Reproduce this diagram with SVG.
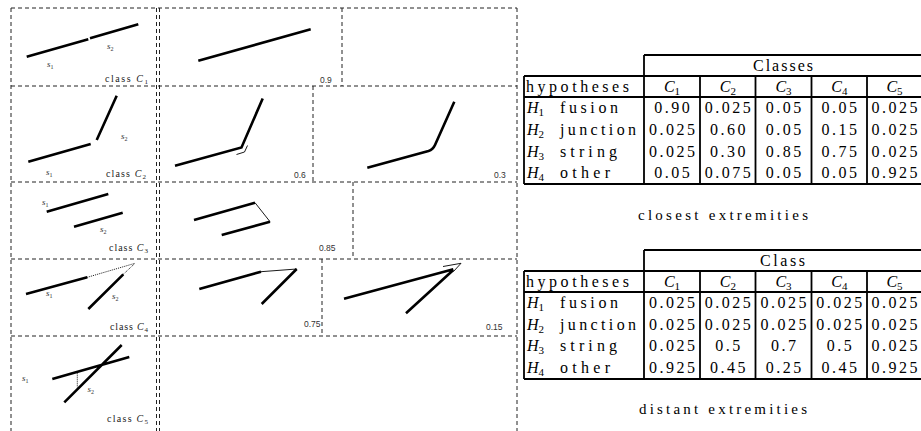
<svg xmlns="http://www.w3.org/2000/svg" width="921" height="431" viewBox="0 0 921 431">
<style>
.d{stroke:#222;stroke-width:1;stroke-dasharray:4 3;fill:none}
.k{stroke:#000;stroke-width:2.6;fill:none}
.t{stroke:#000;stroke-width:0.9;fill:none}
.o{stroke:#000;stroke-width:0.9;stroke-dasharray:1 1;fill:none}
.lbl{font-family:"Liberation Serif",serif;font-size:10px;fill:#222}
.sl{font-family:"Liberation Serif",serif;font-size:9px;font-style:italic;fill:#333}
.n{font-family:"Liberation Sans",sans-serif;font-size:8.5px;fill:#333}
.tb{stroke:#000;stroke-width:1.8;fill:none}
.tx{font-family:"Liberation Serif",serif;font-size:16px;fill:#000}
.v{font-family:"Liberation Serif",serif;font-size:16px;fill:#000;letter-spacing:2.5px;text-anchor:middle}
.h{font-family:"Liberation Serif",serif;font-size:16px;fill:#000;text-anchor:middle}
.cap{font-family:"Liberation Serif",serif;font-size:15px;fill:#000;text-anchor:middle}
</style>

<g id="grid">
<path class="d" d="M11,8H517M11,86H517M11,182H517M11,259H517M11,336H517"/>
<path class="d" d="M11,8V431M156.5,8V431M159.5,8V431M517,8V431"/>
<path class="d" d="M342,8V86M313,86V182M353,182V259M322,259V336"/>
</g>

<g id="row1">
<g id="c1">
<path class="k" d="M26.7,56.7L88.3,39.3M90,38.3L138.3,24.3"/>
<text class="sl" x="47" y="67">s<tspan font-size="6" dy="1.5" font-style="normal">1</tspan></text>
<text class="sl" x="107" y="49">s<tspan font-size="6" dy="1.5" font-style="normal">2</tspan></text>
<text class="lbl" x="105" y="82" textLength="43">class <tspan font-style="italic">C</tspan><tspan font-size="7" dy="2">1</tspan></text>
</g>
<g id="c1a">
<path class="k" d="M198.3,60.7L310.7,29.3"/>
<text class="n" x="320" y="82.5">0.9</text>
</g>
</g>

<g id="row2">
<g id="c2">
<path class="k" d="M28.3,161.7L90.7,144M96.7,140L116.7,95.7"/>
<text class="sl" x="121" y="139">s<tspan font-size="6" dy="1.5" font-style="normal">2</tspan></text>
<text class="sl" x="46" y="175">s<tspan font-size="6" dy="1.5" font-style="normal">1</tspan></text>
<text class="lbl" x="106" y="177" textLength="40">class <tspan font-style="italic">C</tspan><tspan font-size="7" dy="2">2</tspan></text>
</g>
<g id="c2a">
<path class="k" d="M175,165.7L241.5,147.5L262.7,98.5" stroke-linejoin="miter"/>
<path class="t" d="M236.5,154.5L244.5,152L247.5,145.5"/>
<text class="n" x="294" y="178">0.6</text>
</g>
<g id="c2b">
<path class="k" d="M367.3,167.7L428.5,151Q433,149.5 435,145L454.3,101.7"/>
<text class="n" x="494" y="177.5">0.3</text>
</g>
</g>

<g id="row3">
<g id="c3">
<path class="k" d="M46.7,211.7L108.3,194M74,226.7L122.7,212.7"/>
<text class="sl" x="42" y="205">s<tspan font-size="6" dy="1.5" font-style="normal">1</tspan></text>
<text class="sl" x="100" y="232">s<tspan font-size="6" dy="1.5" font-style="normal">2</tspan></text>
<text class="lbl" x="109" y="251" textLength="39">class <tspan font-style="italic">C</tspan><tspan font-size="7" dy="2">3</tspan></text>
</g>
<g id="c3a">
<path class="k" d="M194,220L255,202.7M221.7,235L270,221.7"/>
<path class="t" d="M255,202.7L270,221.7"/>
<text class="n" x="319" y="251">0.85</text>
</g>
</g>

<g id="row4">
<g id="c4">
<path class="k" d="M26,294L87.3,277.3M88.3,309L123.3,274.3"/>
<path class="o" d="M87.3,277.3L135,263.3M123.3,274.3L135,263.3"/>
<text class="sl" x="46" y="296">s<tspan font-size="6" dy="1.5" font-style="normal">1</tspan></text>
<text class="sl" x="112" y="299">s<tspan font-size="6" dy="1.5" font-style="normal">2</tspan></text>
<text class="lbl" x="110" y="329.5" textLength="38">class <tspan font-style="italic">C</tspan><tspan font-size="7" dy="2">4</tspan></text>
</g>
<g id="c4a">
<path class="k" d="M199.3,289L261,271.7M261.7,304L296.7,269"/>
<path class="t" d="M261,271.7L296.7,269"/>
<text class="n" x="304" y="327">0.75</text>
</g>
<g id="c4b">
<path class="k" d="M344,298.7L453.3,269.3M406,313.3L453.3,270"/>
<path class="t" d="M443,266.5L461,263.3L453.5,271.5"/>
<text class="n" x="486" y="330">0.15</text>
</g>
</g>

<g id="row5">
<g id="c5">
<path class="k" d="M52.3,379L129.3,357M64.3,402.3L121.7,345"/>
<path class="o" d="M77.3,372.7V387.3"/>
<text class="sl" x="22" y="381">s<tspan font-size="6" dy="1.5" font-style="normal">1</tspan></text>
<text class="sl" x="87.5" y="392">s<tspan font-size="6" dy="1.5" font-style="normal">2</tspan></text>
<text class="lbl" x="107" y="422" textLength="41">class <tspan font-style="italic">C</tspan><tspan font-size="7" dy="2">5</tspan></text>
</g>
</g>

<g id="table1">
<path class="tb" d="M644,55H921M524,76H921M524,97H921M524,184H921"/>
<path class="tb" d="M524,76V184M644,55V184M700,76V184M755.5,76V184M811.5,76V184M867,76V184"/>
<text class="h" x="783" y="71" textLength="60">Classes</text>
<text class="tx" x="526" y="92" textLength="103">hypotheses</text>
<text class="h" x="672" y="92"><tspan font-style="italic">C</tspan><tspan font-size="11" dy="3">1</tspan></text>
<text class="h" x="727.8" y="92"><tspan font-style="italic">C</tspan><tspan font-size="11" dy="3">2</tspan></text>
<text class="h" x="783.5" y="92"><tspan font-style="italic">C</tspan><tspan font-size="11" dy="3">3</tspan></text>
<text class="h" x="839.3" y="92"><tspan font-style="italic">C</tspan><tspan font-size="11" dy="3">4</tspan></text>
<text class="h" x="894.5" y="92"><tspan font-style="italic">C</tspan><tspan font-size="11" dy="3">5</tspan></text>

<text class="tx" x="527" y="113"><tspan font-style="italic">H</tspan><tspan font-size="11" dy="3">1</tspan></text>
<text class="tx" x="560" y="113" textLength="58">fusion</text>
<text class="tx" x="527" y="135"><tspan font-style="italic">H</tspan><tspan font-size="11" dy="3">2</tspan></text>
<text class="tx" x="560" y="135" textLength="76">junction</text>
<text class="tx" x="527" y="156.5"><tspan font-style="italic">H</tspan><tspan font-size="11" dy="3">3</tspan></text>
<text class="tx" x="560" y="156.5" textLength="57">string</text>
<text class="tx" x="527" y="178"><tspan font-style="italic">H</tspan><tspan font-size="11" dy="3">4</tspan></text>
<text class="tx" x="560" y="178" textLength="50">other</text>

<g class="vals">
<text class="v" x="673.2" y="113">0.90</text>
<text class="v" x="729" y="113">0.025</text>
<text class="v" x="784.7" y="113">0.05</text>
<text class="v" x="840.5" y="113">0.05</text>
<text class="v" x="895.7" y="113">0.025</text>

<text class="v" x="673.2" y="135">0.025</text>
<text class="v" x="729" y="135">0.60</text>
<text class="v" x="784.7" y="135">0.05</text>
<text class="v" x="840.5" y="135">0.15</text>
<text class="v" x="895.7" y="135">0.025</text>

<text class="v" x="673.2" y="156.5">0.025</text>
<text class="v" x="729" y="156.5">0.30</text>
<text class="v" x="784.7" y="156.5">0.85</text>
<text class="v" x="840.5" y="156.5">0.75</text>
<text class="v" x="895.7" y="156.5">0.025</text>

<text class="v" x="673.2" y="178">0.05</text>
<text class="v" x="729" y="178">0.075</text>
<text class="v" x="784.7" y="178">0.05</text>
<text class="v" x="840.5" y="178">0.05</text>
<text class="v" x="895.7" y="178">0.925</text>
</g>
</g>

<text class="cap" x="723" y="220" textLength="170">closest extremities</text>

<g id="table2">
<path class="tb" d="M644,250H921M524,271H921M524,292H921M524,379H921"/>
<path class="tb" d="M524,271V379M644,250V379M700,271V379M755.5,271V379M811.5,271V379M867,271V379"/>
<text class="h" x="782.5" y="266" textLength="45">Class</text>
<text class="tx" x="526" y="287" textLength="103">hypotheses</text>
<text class="h" x="672" y="287"><tspan font-style="italic">C</tspan><tspan font-size="11" dy="3">1</tspan></text>
<text class="h" x="727.8" y="287"><tspan font-style="italic">C</tspan><tspan font-size="11" dy="3">2</tspan></text>
<text class="h" x="783.5" y="287"><tspan font-style="italic">C</tspan><tspan font-size="11" dy="3">3</tspan></text>
<text class="h" x="839.3" y="287"><tspan font-style="italic">C</tspan><tspan font-size="11" dy="3">4</tspan></text>
<text class="h" x="894.5" y="287"><tspan font-style="italic">C</tspan><tspan font-size="11" dy="3">5</tspan></text>

<text class="tx" x="527" y="308"><tspan font-style="italic">H</tspan><tspan font-size="11" dy="3">1</tspan></text>
<text class="tx" x="560" y="308" textLength="58">fusion</text>
<text class="tx" x="527" y="329.5"><tspan font-style="italic">H</tspan><tspan font-size="11" dy="3">2</tspan></text>
<text class="tx" x="560" y="329.5" textLength="76">junction</text>
<text class="tx" x="527" y="351"><tspan font-style="italic">H</tspan><tspan font-size="11" dy="3">3</tspan></text>
<text class="tx" x="560" y="351" textLength="57">string</text>
<text class="tx" x="527" y="373"><tspan font-style="italic">H</tspan><tspan font-size="11" dy="3">4</tspan></text>
<text class="tx" x="560" y="373" textLength="50">other</text>

<g class="vals">
<text class="v" x="673.2" y="308">0.025</text>
<text class="v" x="729" y="308">0.025</text>
<text class="v" x="784.7" y="308">0.025</text>
<text class="v" x="840.5" y="308">0.025</text>
<text class="v" x="895.7" y="308">0.025</text>

<text class="v" x="673.2" y="329.5">0.025</text>
<text class="v" x="729" y="329.5">0.025</text>
<text class="v" x="784.7" y="329.5">0.025</text>
<text class="v" x="840.5" y="329.5">0.025</text>
<text class="v" x="895.7" y="329.5">0.025</text>

<text class="v" x="673.2" y="351">0.025</text>
<text class="v" x="729" y="351">0.5</text>
<text class="v" x="784.7" y="351">0.7</text>
<text class="v" x="840.5" y="351">0.5</text>
<text class="v" x="895.7" y="351">0.025</text>

<text class="v" x="673.2" y="373">0.925</text>
<text class="v" x="729" y="373">0.45</text>
<text class="v" x="784.7" y="373">0.25</text>
<text class="v" x="840.5" y="373">0.45</text>
<text class="v" x="895.7" y="373">0.925</text>
</g>
</g>

<text class="cap" x="723" y="414" textLength="168">distant extremities</text>
</svg>
